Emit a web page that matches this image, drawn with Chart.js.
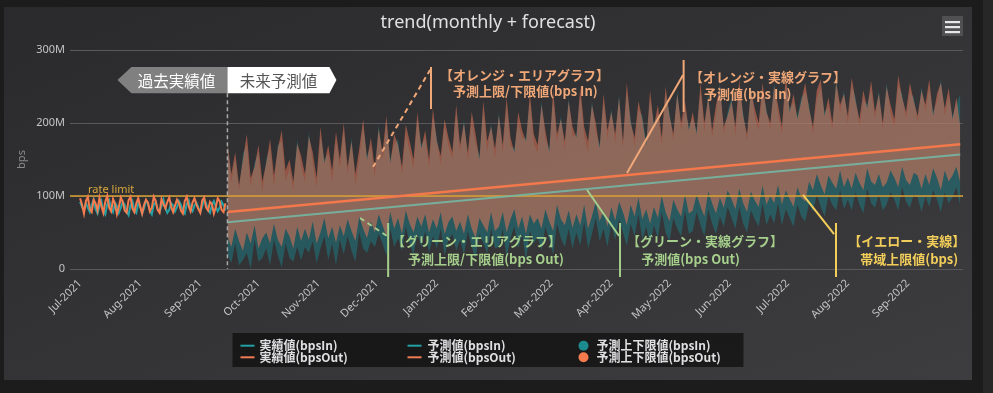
<!DOCTYPE html>
<html><head><meta charset="utf-8">
<script src="https://cdn.jsdelivr.net/npm/chart.js@4.4.1/dist/chart.umd.min.js"></script>
<style>
html,body{margin:0;padding:0;background:#1c1c1c;width:993px;height:393px;overflow:hidden}
#strip{position:absolute;left:983px;top:0;width:10px;height:393px;background:#272727}
#panel{position:absolute;left:4px;top:7px;width:968px;height:373px;background:linear-gradient(to bottom right,#2a2a2c,#3d3d3f)}
canvas{display:block}
</style></head><body>
<div id="strip"></div>
<div id="panel"><canvas id="c" width="968" height="373"></canvas></div>
<script>
// ---------- data (values in M bps, x in days from 2021-07-01) ----------
const monthTickDays = [0,31,62,92,123,153,184,215,243,274,304,335,365,396,427];
const monthTickLabels = ['Jul-2021','Aug-2021','Sep-2021','Oct-2021','Nov-2021','Dec-2021','Jan-2022','Feb-2022','Mar-2022','Apr-2022','May-2022','Jun-2022','Jul-2022','Aug-2022','Sep-2022'];

const actualIn = [92,85,80,90,84,78,88,95,82,76,86,93,80,75,89,94,83,78,91,86,77,84,92,88,79,74,87,93,81,77,90,85,76,83,94,89,80,75,88,92,82,78,86,95,84,77,81,90,87,79,85,93,88,80,76,89,94,83,79,87,91,84,78,86,96,90,81,77,88,93,85,79,84,92,87,80];
const actualOut = [97,88,76,93,99,82,78,95,90,80,98,86,77,92,100,84,79,96,89,75,85,98,92,80,77,94,99,83,78,90,97,86,76,88,95,91,79,84,99,93,81,77,96,89,83,92,98,85,78,87,95,90,80,76,93,99,86,79,91,97,88,82,77,94,98,84,80,92,89,76,85,97,93,81,78,90];

const forecastStartDay = 76;
const forecastStepDays = 2;
const forecastOutUpper = [
175,130,160,115,150,185,125,140,170,120, 145,178,128,165,190,135,150,120,172,155,
130,182,160,125,195,145,170,135,188,150, 200,140,175,130,165,205,150,180,138,192,
160,210,145,185,170,140,198,175,150,215, 165,190,150,220,175,155,205,180,160,225,
170,200,160,215,185,150,230,175,195,165, 210,170,235,180,160,215,190,175,240,185,
170,225,190,160,245,185,205,175,230,195, 180,250,195,175,225,200,165,240,190,215,
185,235,175,255,200,180,230,205,170,245, 195,225,180,250,210,185,240,200,230,190,
215,185,255,200,235,190,225,250,195,210, 230,195,260,210,185,245,220,200,255,215,
200,250,225,195,265,215,240,205,230,255, 220,195,245,260,210,235,200,255,225,240,
210,262,230,205,245,220,258,215,240,200, 250,225,205,265,235,215,255,230,210,245,
225,260,210,240,255,220,248,205,235,195];
const forecastOutLower = [
45,30,55,38,25,50,35,60,28,42, 50,35,62,40,30,55,45,28,58,38,
55,40,65,35,50,70,42,58,36,60, 45,68,52,38,72,55,42,65,50,75,
60,45,78,55,70,48,80,62,50,72, 58,75,50,68,55,78,48,64,72,52,
65,48,75,55,42,70,60,50,78,52, 58,78,50,68,82,55,72,48,75,62,
70,55,82,65,52,88,68,60,80,56, 75,60,88,55,72,92,65,80,58,85,
66,92,78,60,88,72,98,68,82,62, 85,70,100,78,65,95,82,72,102,76,
80,102,86,72,106,90,76,98,84,108, 96,82,110,90,78,106,94,85,114,88,
100,90,115,88,108,96,85,112,98,92, 120,108,130,115,102,128,118,110,135,112,
125,110,132,118,108,138,120,115,130,112, 118,135,125,112,140,122,115,132,128,110,
130,115,138,125,108,135,120,128,140,118];
const forecastInUpper = [
178,118,150,108,158,170,112,146,160,105, 150,165,112,170,175,120,138,108,178,140,
118,188,145,112,182,150,158,120,175,138, 190,128,180,115,150,195,155,168,125,198,
148,200,150,170,178,128,185,160,138,205, 170,178,138,208,180,142,195,168,150,212,
158,205,148,200,172,155,218,160,200,150, 215,158,222,168,165,200,178,180,228,172,
160,230,178,165,232,172,210,162,235,180, 185,238,182,160,230,188,170,228,178,220,
172,240,165,242,205,168,218,210,175,232, 200,212,170,238,215,175,245,190,218,195,
205,190,242,188,240,180,212,255,185,215, 235,182,248,215,175,250,208,190,242,220,
190,255,212,185,250,220,228,210,235,242, 225,185,232,248,215,222,190,260,212,245,
198,250,235,195,232,225,245,205,245,190, 255,212,195,250,240,205,242,235,200,250,
215,248,215,228,260,210,236,210,225,240];
const forecastInLower = [
20,8,35,5,12,22,0,40,10,15, 28,5,40,18,2,35,15,10,30,12,
30,22,38,8,28,45,12,35,5,40, 20,45,25,10,50,28,22,38,30,48,
35,18,55,30,42,25,58,35,20,48, 30,52,22,45,28,55,18,40,48,25,
40,20,52,30,15,48,35,22,55,28, 30,55,15,42,58,28,48,12,52,35,
45,25,58,40,20,62,42,30,55,28, 50,32,65,28,48,70,38,55,30,62,
40,68,50,32,62,45,75,40,58,35, 60,42,78,50,38,70,55,45,80,48,
52,78,60,45,82,62,48,72,58,85, 70,55,85,62,50,80,68,58,90,60,
75,62,90,60,82,70,58,88,72,65, 90,78,102,85,72,100,88,80,108,82,
95,80,105,88,76,110,90,84,102,80, 88,105,95,80,112,92,84,102,98,78,
100,85,108,95,78,105,90,98,112,86];
const forecastInLine = [64, 157];   // at first and last forecast day
const forecastOutLine = [78, 171];
const rateLimit = 100;

const seriesNames = ['実績値(bpsIn)','実績値(bpsOut)','予測値(bpsIn)','予測値(bpsOut)','予測上下限値(bpsIn)','予測上下限値(bpsOut)'];

// ---------- chart ----------
const xMin = -5.2, xMax = 455.4;
const actualDays = actualIn.map((_, i) => i);
const forecastDays = forecastInUpper.map((_, i) => forecastStartDay + i * forecastStepDays);
const lastDay = forecastDays[forecastDays.length - 1];
const pts = (days, vals) => vals.map((v, i) => ({x: days[i], y: v}));

const LAT = '"Noto Sans", "Noto Sans CJK JP", sans-serif';
const JP = '"Noto Sans CJK JP", "Noto Sans", sans-serif';
const CLEAR = 'rgba(0,0,0,0)';

const datasets = [
  {label: seriesNames[0], data: pts(actualDays, actualIn), borderColor: '#22a2a6', borderWidth: 2, order: 2, legendColor: '#22a0a3', legendType: 'line'},
  {label: seriesNames[1], data: pts(actualDays, actualOut), borderColor: '#f47c4e', borderWidth: 2, order: 1, legendColor: '#f07c55', legendType: 'line'},
  {label: 'lowerIn', data: pts(forecastDays, forecastInLower), borderColor: CLEAR, borderWidth: 1, order: 10},
  {label: seriesNames[4], data: pts(forecastDays, forecastInUpper), borderColor: CLEAR, borderWidth: 1, backgroundColor: 'rgba(22,140,150,0.42)', fill: {target: 2}, order: 10, legendColor: '#1b8b8e', legendType: 'dot'},
  {label: 'lowerOut', data: pts(forecastDays, forecastOutLower), borderColor: CLEAR, borderWidth: 1, order: 8},
  {label: seriesNames[5], data: pts(forecastDays, forecastOutUpper), borderColor: CLEAR, borderWidth: 1, backgroundColor: 'rgba(245,122,88,0.5)', fill: {target: 4}, order: 8, legendColor: '#f47b4d', legendType: 'dot'},
  {label: seriesNames[2], data: [{x: forecastStartDay, y: forecastInLine[0]}, {x: lastDay, y: forecastInLine[1]}], borderColor: 'rgba(118,182,164,0.9)', borderWidth: 2, order: 3, legendColor: '#22a0a3', legendType: 'line'},
  {label: seriesNames[3], data: [{x: forecastStartDay, y: forecastOutLine[0]}, {x: lastDay, y: forecastOutLine[1]}], borderColor: '#f3784b', borderWidth: 2.5, order: 2.5, legendColor: '#f07c55', legendType: 'line'},
  {label: 'rate limit', data: [{x: xMin, y: rateLimit}, {x: xMax, y: rateLimit}], borderColor: '#d9a032', borderWidth: 1.5, order: 4}
];
datasets.forEach(d => { d.pointRadius = 0; d.tension = 0; if (d.fill === undefined) d.fill = false; });

const legendGrid = [[0, 6, 3], [1, 7, 5]];

const callouts = [
  {color: '#f0a878', dash: [5, 4], from: [151.1, 139.7], to: [180.5, 272.6], bar: [181.0, 276.7, 219.2],
   lines: [['【オレンジ・エリアグラフ】', 185.7, 265.1], ['予測上限/下限値(bps In)', 192.4, 243.2]], align: 'left'},
  {color: '#f0a878', dash: [], from: [282.1, 131.5], to: [311.0, 265.8], bar: [311.3, 286.3, 215.1],
   lines: [['【オレンジ・実線グラフ】', 314.6, 263.0], ['予測値(bps In)', 321.8, 239.7]], align: 'left'},
  {color: '#a6cf8c', dash: [5, 4], from: [144.4, 69.9], to: [158.3, 45.2], bar: [158.9, 63.0, -11.0],
   lines: [['【グリーン・エリアグラフ】', 160.9, 37.7], ['予測上限/下限値(bps Out)', 169.2, 13.7]], align: 'left'},
  {color: '#a6cf8c', dash: [], from: [261.5, 108.2], to: [278.0, 45.2], bar: [278.5, 63.0, -11.0],
   lines: [['【グリーン・実線グラフ】', 282.1, 37.7], ['予測値(bps Out)', 289.4, 13.7]], align: 'left'},
  {color: '#f2cd5a', dash: [], from: [372.9, 101.4], to: [388.9, 47.9], bar: [389.9, 63.0, -11.0],
   lines: [['【イエロー・実線】', 456.5, 37.7], ['帯域上限値(bps)', 452.9, 13.7]], align: 'right'}
];

const decor = {
  id: 'decor',
  afterDraw(chart) {
    const {ctx, scales: {x, y}, chartArea: ca} = chart;
    const P = (d, v) => [x.getPixelForValue(d), y.getPixelForValue(v)];
    ctx.save();
    // title
    ctx.fillStyle = '#e0e0e3';
    ctx.font = '18px ' + LAT;
    ctx.textAlign = 'center'; ctx.textBaseline = 'middle';
    ctx.fillText('trend(monthly + forecast)', chart.width / 2, 16);
    // menu button
    ctx.fillStyle = '#505053';
    ctx.fillRect(938, 9, 21, 20);
    ctx.fillStyle = '#e6e6e6';
    [14, 19, 24].forEach(yy => ctx.fillRect(941, yy, 15, 2.2));
    // rate limit label
    ctx.fillStyle = '#d9a63c';
    ctx.font = '11px ' + LAT;
    ctx.textAlign = 'left'; ctx.textBaseline = 'alphabetic';
    const rl = P(4.1, rateLimit);
    ctx.fillText('rate limit', rl[0], rl[1] - 3.5);
    // forecast divider
    const dx = x.getPixelForValue(forecastStartDay);
    const bTop = y.getPixelForValue(276.7), bBot = y.getPixelForValue(240.8);
    ctx.strokeStyle = '#a8a8a8'; ctx.lineWidth = 1.5; ctx.setLineDash([4, 3]);
    ctx.beginPath(); ctx.moveTo(dx, bBot); ctx.lineTo(dx, ca.bottom); ctx.stroke();
    ctx.setLineDash([]);
    const bMid = (bTop + bBot) / 2;
    ctx.fillStyle = '#808080';
    ctx.beginPath(); ctx.moveTo(dx, bTop); ctx.lineTo(dx - 96, bTop); ctx.lineTo(dx - 110, bMid); ctx.lineTo(dx - 96, bBot); ctx.lineTo(dx, bBot); ctx.closePath(); ctx.fill();
    ctx.fillStyle = '#ffffff';
    ctx.beginPath(); ctx.moveTo(dx, bTop); ctx.lineTo(dx + 102, bTop); ctx.lineTo(dx + 109, bMid); ctx.lineTo(dx + 102, bBot); ctx.lineTo(dx, bBot); ctx.closePath(); ctx.fill();
    ctx.font = '15.5px ' + JP; ctx.textAlign = 'center'; ctx.textBaseline = 'middle';
    ctx.fillStyle = '#ffffff'; ctx.fillText('過去実績値', dx - 51, bMid + 1);
    ctx.fillStyle = '#555555'; ctx.fillText('未来予測値', dx + 51, bMid + 1);
    // callouts
    callouts.forEach(c => {
      ctx.strokeStyle = c.color; ctx.fillStyle = c.color; ctx.lineWidth = 2;
      ctx.setLineDash(c.dash);
      const a = P(c.from[0], c.from[1]), b = P(c.to[0], c.to[1]);
      ctx.beginPath(); ctx.moveTo(a[0], a[1]); ctx.lineTo(b[0], b[1]); ctx.stroke();
      ctx.setLineDash([]);
      const t = P(c.bar[0], c.bar[1]), u = P(c.bar[0], c.bar[2]);
      ctx.beginPath(); ctx.moveTo(t[0], t[1]); ctx.lineTo(u[0], u[1]); ctx.stroke();
      ctx.font = 'bold 13px ' + JP; ctx.textAlign = c.align; ctx.textBaseline = 'middle';
      c.lines.forEach(l => { const p = P(l[1], l[2]); ctx.fillText(l[0], p[0], p[1]); });
    });
    // legend
    const lw = 511, lh = 34, lx = chart.width / 2 - lw / 2, ly = 326;
    ctx.fillStyle = 'rgba(0,0,0,0.55)';
    ctx.fillRect(lx, ly, lw, lh);
    const colSym = [8, 175, 351], colTxt = [27, 195, 364], rowY = [12.7, 24.3];
    ctx.font = 'bold 12px ' + JP; ctx.textAlign = 'left'; ctx.textBaseline = 'middle';
    legendGrid.forEach((row, r) => row.forEach((di, ci) => {
      const ds = datasets[di];
      const yy = ly + rowY[r];
      ctx.fillStyle = ds.legendColor; ctx.strokeStyle = ds.legendColor;
      if (ds.legendType === 'dot') {
        ctx.beginPath(); ctx.arc(lx + colSym[ci], yy, 5, 0, Math.PI * 2); ctx.fill();
      } else {
        ctx.lineWidth = 2; ctx.beginPath(); ctx.moveTo(lx + colSym[ci], yy); ctx.lineTo(lx + colSym[ci] + 14, yy); ctx.stroke();
      }
      ctx.fillStyle = '#e0e0e3';
      ctx.fillText(ds.label, lx + colTxt[ci], yy);
    }));
    ctx.restore();
  }
};

new Chart(document.getElementById('c'), {
  type: 'line',
  data: {datasets},
  plugins: [decor],
  options: {
    responsive: false, animation: false, events: [],
    layout: {padding: {top: 43, right: 9, bottom: 0, left: 0}},
    plugins: {legend: {display: false}, tooltip: {enabled: false}, title: {display: false}},
    scales: {
      x: {
        type: 'linear', min: xMin, max: xMax,
        afterBuildTicks: s => { s.ticks = monthTickDays.map(v => ({value: v})); },
        afterFit: s => { s.height = 111; },
        grid: {display: false, drawTicks: false},
        border: {display: false},
        ticks: {autoSkip: false, minRotation: 45, maxRotation: 45, padding: 8, color: '#c4c4c6', font: {family: LAT, size: 11},
          callback: (v, i) => monthTickLabels[i]}
      },
      y: {
        min: 0, max: 300,
        afterFit: s => { s.width = 66; },
        grid: {color: '#59595c', drawTicks: false, lineWidth: 1},
        border: {display: false},
        ticks: {stepSize: 100, padding: 5, color: '#c4c4c6', font: {family: LAT, size: 11},
          callback: v => v === 0 ? '0' : v + 'M'},
        title: {display: true, text: 'bps', color: '#8a8a8c', font: {family: LAT, size: 11}, padding: {top: 11, bottom: 0}}
      }
    }
  }
});
</script></body></html>
